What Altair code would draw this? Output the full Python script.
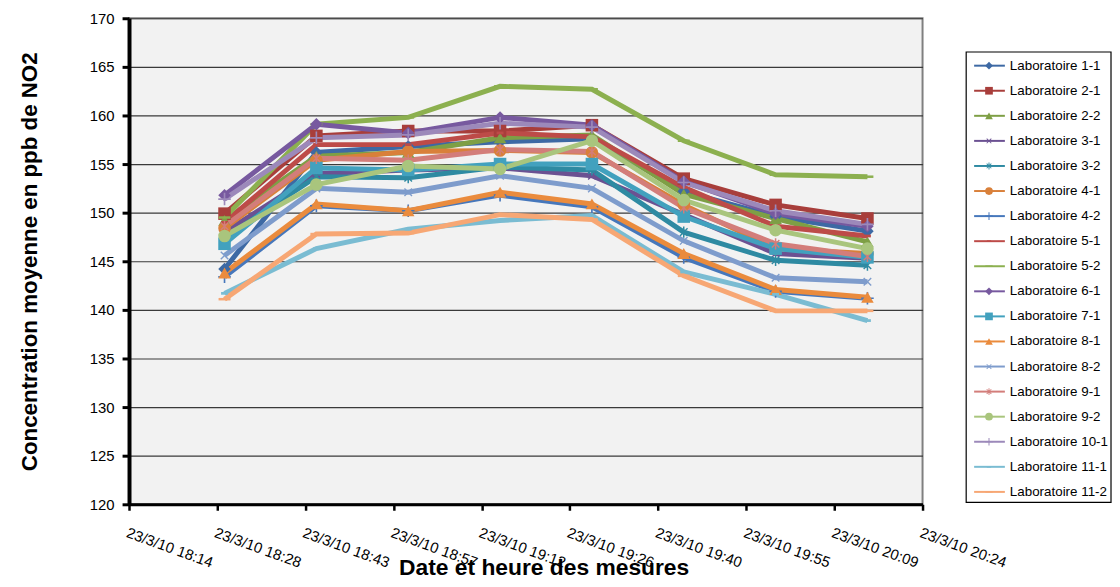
import json
import math
import altair as alt
import pandas as pd

# ---------------- data ----------------
series_names = [
    "Laboratoire 1-1", "Laboratoire 2-1", "Laboratoire 2-2", "Laboratoire 3-1",
    "Laboratoire 3-2", "Laboratoire 4-1", "Laboratoire 4-2", "Laboratoire 5-1",
    "Laboratoire 5-2", "Laboratoire 6-1", "Laboratoire 7-1", "Laboratoire 8-1",
    "Laboratoire 8-2", "Laboratoire 9-1", "Laboratoire 9-2", "Laboratoire 10-1",
    "Laboratoire 11-1", "Laboratoire 11-2",
]

# measurement times, seconds since midnight (18:30 ... 20:15)
times_s = [66600, 67500, 68400, 69300, 70200, 71100, 72000, 72900]

# x axis ticks (seconds since midnight) and their labels
tick_seconds = [65664, 66528, 67392, 68256, 69120, 69984, 70848, 71712, 72576, 73440]
tick_labels = [
    "23/3/10 18:14", "23/3/10 18:28", "23/3/10 18:43", "23/3/10 18:57",
    "23/3/10 19:12", "23/3/10 19:26", "23/3/10 19:40", "23/3/10 19:55",
    "23/3/10 20:09", "23/3/10 20:24",
]
y_ticks = [120, 125, 130, 135, 140, 145, 150, 155, 160, 165, 170]

lab_1_1 = [144.2, 156.2, 156.8, 157.3, 157.6, 152.2, 149.6, 148.1]
lab_2_1 = [149.9, 157.9, 158.4, 158.4, 159.0, 153.5, 150.8, 149.4]
lab_2_2 = [149.2, 155.8, 156.2, 157.7, 158.0, 151.9, 149.4, 147.0]
lab_3_1 = [148.0, 154.0, 154.4, 154.6, 153.8, 149.8, 145.8, 145.3]
lab_3_2 = [147.4, 153.7, 153.6, 154.7, 154.4, 148.0, 145.1, 144.6]
lab_4_1 = [148.4, 155.4, 156.3, 156.4, 156.2, 150.8, 146.3, 145.8]
lab_4_2 = [143.4, 150.7, 150.2, 151.8, 150.6, 145.4, 141.9, 141.2]
lab_5_1 = [149.0, 157.0, 157.0, 158.2, 157.8, 152.6, 148.6, 147.6]
lab_5_2 = [149.5, 159.1, 159.8, 163.0, 162.7, 157.4, 153.9, 153.7]
lab_6_1 = [151.8, 159.1, 158.2, 159.8, 159.0, 153.2, 149.9, 148.6]
lab_7_1 = [146.8, 154.6, 154.4, 155.0, 155.0, 149.6, 146.3, 145.4]
lab_8_1 = [143.8, 150.9, 150.2, 152.1, 150.9, 145.8, 142.1, 141.3]
lab_8_2 = [145.6, 152.5, 152.1, 153.8, 152.5, 147.1, 143.3, 142.9]
lab_9_1 = [148.6, 155.6, 155.4, 156.5, 156.3, 150.5, 146.8, 145.5]
lab_9_2 = [147.6, 152.9, 154.8, 154.5, 157.4, 151.3, 148.2, 146.3]
lab_10_1 = [151.4, 157.7, 158.0, 159.2, 158.8, 153.1, 150.2, 148.8]
lab_11_1 = [141.7, 146.3, 148.3, 149.2, 149.7, 143.9, 141.6, 138.9]
lab_11_2 = [141.1, 147.8, 147.9, 149.8, 149.3, 143.5, 139.9, 139.9]

series_values = [
    lab_1_1, lab_2_1, lab_2_2, lab_3_1, lab_3_2, lab_4_1, lab_4_2, lab_5_1,
    lab_5_2, lab_6_1, lab_7_1, lab_8_1, lab_8_2, lab_9_1, lab_9_2, lab_10_1,
    lab_11_1, lab_11_2,
]

colors = [
    "#3D69A4", "#A83E3B", "#7E9F45", "#6B5192", "#2E8AA2", "#D9803A",
    "#4677BB", "#BD4B48", "#8CB04F", "#77599F", "#42A1BE", "#EA8B3D",
    "#7E9CCC", "#D37D7A", "#A9C57D", "#9C89BA", "#7ABCD2", "#F7A774",
]

# ---------------- marker shapes ----------------
def polygon(pts):
    return "M" + "L".join(f"{x:.3f},{y:.3f}" for x, y in pts) + "Z"

def plus_pts(w):
    return [(-w, -1), (w, -1), (w, -w), (1, -w), (1, w), (w, w), (w, 1),
            (-w, 1), (-w, w), (-1, w), (-1, -w), (-w, -w)]

def rotate(pts, deg, scale=1.0):
    a = math.radians(deg)
    c, s = math.cos(a), math.sin(a)
    return [((x * c - y * s) * scale, (x * s + y * c) * scale) for x, y in pts]

thin_plus = polygon(plus_pts(0.13))
x_mark = polygon(rotate(plus_pts(0.13), 45, 0.85))
asterisk = x_mark + polygon([(-0.12, -0.9), (0.12, -0.9), (0.12, 0.9), (-0.12, 0.9)])
short_dash = polygon([(-0.55, -0.22), (0.55, -0.22), (0.55, 0.22), (-0.55, 0.22)])
long_dash = polygon([(-0.95, -0.2), (0.95, -0.2), (0.95, 0.2), (-0.95, 0.2)])

shapes = [
    "diamond", "square", "triangle-up", x_mark, asterisk, "circle", thin_plus,
    short_dash, long_dash, "diamond", "square", "triangle-up", x_mark, asterisk,
    "circle", thin_plus, short_dash, long_dash,
]

rows = []
for i, (name, vals) in enumerate(zip(series_names, series_values)):
    for t, v in zip(times_s, vals):
        rows.append({"series": name, "idx": i, "t": t, "value": v})
df = pd.DataFrame(rows)

FONT = "Liberation Sans"

color_enc = alt.Color("series:N", scale=alt.Scale(domain=series_names, range=colors), legend=None)
shape_enc = alt.Shape("series:N", scale=alt.Scale(domain=series_names, range=shapes), legend=None)

label_expr = f"{json.dumps(tick_labels)}[indexof({json.dumps(tick_seconds)}, datum.value)]"

x_enc = alt.X(
    "t:Q",
    scale=alt.Scale(domain=[tick_seconds[0], tick_seconds[-1]], nice=False, zero=False),
    axis=alt.Axis(
        values=tick_seconds, labelExpr=label_expr, title="Date et heure des mesures",
        labelAngle=20, labelAlign="left", labelBaseline="top", labelPadding=15,
        labelFontSize=15, labelOverlap=False, labelFlush=False, labelColor="black",
        tickSize=6, tickWidth=2.5, tickColor="black", domainColor="black", domainWidth=3,
        grid=False, titleFontSize=23, titleFontWeight="bold", titleColor="black",
        titleX=418, titleY=71, titleBaseline="alphabetic", titleAlign="center",
    ),
)
y_enc = alt.Y(
    "value:Q",
    scale=alt.Scale(domain=[120, 170], nice=False, zero=False),
    axis=alt.Axis(
        values=y_ticks, format="d", title="Concentration moyenne en ppb de NO2",
        labelFontSize=15, labelPadding=8, labelColor="black",
        tickSize=7, tickWidth=3, tickColor="black", domainColor="black", domainWidth=4,
        grid=True, gridColor="#3a3a3a", gridWidth=1.2,
        titleFontSize=22.5, titleFontWeight="bold", titleColor="black", titlePadding=48,
    ),
)

base = alt.Chart(df)
lines = base.mark_line(strokeWidth=5).encode(
    x=x_enc, y=y_enc, color=color_enc, order="t:Q"
)
points = base.mark_point(filled=True, size=160, opacity=1).encode(
    x=x_enc, y=y_enc, color=color_enc, shape=shape_enc
)
main = alt.layer(lines, points).properties(
    width=800, height=490,
    view=alt.ViewBackground(fill="#f2f2f2", stroke="#7f7f7f", strokeWidth=2),
)

# ---------------- legend panel ----------------
leg_df = pd.DataFrame({"series": series_names})
ly = alt.Y("series:N", sort=series_names,
           scale=alt.Scale(type="point", range=[47.8, 477.5], padding=0), axis=None)
leg_base = alt.Chart(leg_df)
leg_rule = leg_base.mark_rule(strokeWidth=2).encode(
    x=alt.value(8), x2=alt.value(39), y=ly, color=color_enc)
leg_pts = leg_base.mark_point(filled=True, size=60, opacity=1).encode(
    x=alt.value(23), y=ly, color=color_enc, shape=shape_enc)
leg_txt = leg_base.mark_text(align="left", baseline="middle", fontSize=13.5, font=FONT,
                             color="black").encode(x=alt.value(44), y=ly, text="series:N")
leg_box = alt.Chart(pd.DataFrame({"b": [0]})).mark_rect(
    fillOpacity=0, stroke="black", strokeWidth=1.2
).encode(x=alt.value(0), x2=alt.value(146), y=alt.value(34), y2=alt.value(488))
legend = alt.layer(leg_box, leg_rule, leg_pts, leg_txt).properties(
    width=146, height=490, view=alt.ViewBackground(strokeWidth=0)
)

chart = alt.hconcat(main, legend, spacing=44, bounds="flush").properties(
    padding={"left": 9, "top": 0, "right": 0, "bottom": 0}
).configure(font=FONT).configure_axis(labelFont=FONT, titleFont=FONT)

chart.save("out.html", embed_options={"renderer": "svg", "actions": False})
